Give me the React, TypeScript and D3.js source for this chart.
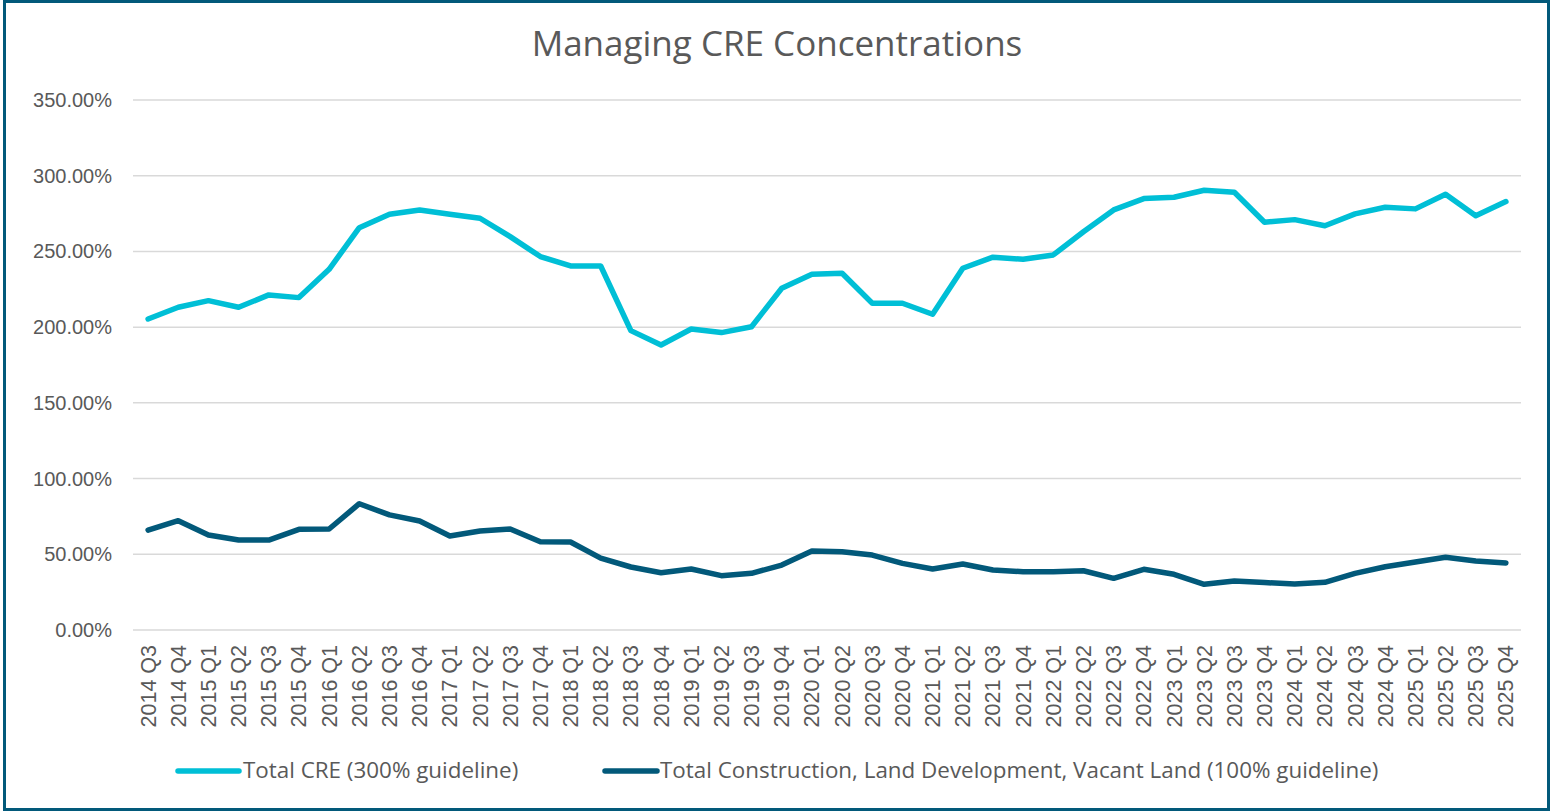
import * as d3 from 'd3';

const quarters = [
  '2014 Q3', '2014 Q4',
  '2015 Q1', '2015 Q2', '2015 Q3', '2015 Q4',
  '2016 Q1', '2016 Q2', '2016 Q3', '2016 Q4',
  '2017 Q1', '2017 Q2', '2017 Q3', '2017 Q4',
  '2018 Q1', '2018 Q2', '2018 Q3', '2018 Q4',
  '2019 Q1', '2019 Q2', '2019 Q3', '2019 Q4',
  '2020 Q1', '2020 Q2', '2020 Q3', '2020 Q4',
  '2021 Q1', '2021 Q2', '2021 Q3', '2021 Q4',
  '2022 Q1', '2022 Q2', '2022 Q3', '2022 Q4',
  '2023 Q1', '2023 Q2', '2023 Q3', '2023 Q4',
  '2024 Q1', '2024 Q2', '2024 Q3', '2024 Q4',
  '2025 Q1', '2025 Q2', '2025 Q3', '2025 Q4',
];

// percent values
const totalCre = [
  205.4, 213.1, 217.5, 213.1, 221.3, 219.5, 238.2, 265.7, 274.5, 277.4,
  274.5, 271.9, 259.8, 246.6, 240.4, 240.4, 197.7, 188.2, 198.8, 196.4,
  200.3, 225.7, 234.9, 235.6, 215.8, 215.8, 208.5, 238.9, 246.2, 244.8,
  247.7, 263.0, 277.4, 284.9, 285.8, 290.4, 289.1, 269.3, 271.0, 267.0,
  274.8, 279.2, 278.1, 287.8, 273.6, 282.9,
];

const totalConstruction = [
  66.0, 72.2, 62.7, 59.4, 59.4, 66.5, 66.7, 83.4, 76.0, 72.0,
  62.1, 65.4, 66.7, 58.3, 58.1, 47.5, 41.6, 37.8, 40.3, 35.9,
  37.4, 42.9, 52.2, 51.7, 49.5, 44.0, 40.3, 43.6, 39.6, 38.5,
  38.5, 39.1, 34.1, 40.1, 36.8, 30.2, 32.4, 31.3, 30.4, 31.5,
  37.4, 41.8, 44.9, 48.0, 45.6, 44.3,
];

const yTicks = [0, 50, 100, 150, 200, 250, 300, 350];

const seriesNames = [
  'Total CRE (300% guideline)',
  'Total Construction, Land Development, Vacant Land (100% guideline)',
];

const CYAN = '#00BFD6';
const TEAL = '#02597A';
const TEXT = '#595959';

export default function App() {
  const width = 1550;
  const height = 811;

  const x = d3.scalePoint<string>().domain(quarters).range([133, 1521]).padding(0.5);
  const y = d3.scaleLinear().domain([0, 350]).range([630, 100]);

  const line = d3.line<number>()
    .x((_, i) => x(quarters[i]) as number)
    .y(d => y(d));

  return (
    <svg
      width={width}
      height={height}
      style={{ position: 'absolute', left: 0, top: 0, background: '#fff' }}
    >
      <rect x={4.5} y={1.5} width={1544} height={808} fill="#fff" stroke={TEAL} strokeWidth={3} />

      <text
        x={777}
        y={56}
        textAnchor="middle"
        fill={TEXT}
        fontFamily="'Open Sans', sans-serif"
        fontSize={35}
      >
        Managing CRE Concentrations
      </text>

      {/* gridlines + y labels */}
      {yTicks.map(t => (
        <g key={t}>
          <line x1={133} x2={1521} y1={y(t)} y2={y(t)} stroke="#D9D9D9" strokeWidth={1.5} />
          <text
            x={112}
            y={y(t)}
            dy="0.35em"
            textAnchor="end"
            fill={TEXT}
            fontFamily="'Liberation Sans', Arial, sans-serif"
            fontSize={20}
          >
            {t.toFixed(2)}%
          </text>
        </g>
      ))}

      {/* x labels rotated */}
      {quarters.map(q => (
        <text
          key={q}
          transform={`translate(${x(q)},645) rotate(-90)`}
          dy="0.35em"
          textAnchor="end"
          fill={TEXT}
          fontFamily="'Liberation Sans', Arial, sans-serif"
          fontSize={21.5}
        >
          {q}
        </text>
      ))}

      <path
        d={line(totalConstruction) || ''}
        fill="none"
        stroke={TEAL}
        strokeWidth={5.5}
        strokeLinejoin="round"
        strokeLinecap="round"
      />
      <path
        d={line(totalCre) || ''}
        fill="none"
        stroke={CYAN}
        strokeWidth={5.5}
        strokeLinejoin="round"
        strokeLinecap="round"
      />

      {/* legend */}
      <g fontFamily="'Open Sans', sans-serif" fontSize={22.4} fill={TEXT}>
        <line x1={178} x2={239} y1={771} y2={771} stroke={CYAN} strokeWidth={5.5} strokeLinecap="round" />
        <text x={243} y={778}>{seriesNames[0]}</text>
        <line x1={605} x2={657} y1={771} y2={771} stroke={TEAL} strokeWidth={5.5} strokeLinecap="round" />
        <text x={660} y={778}>{seriesNames[1]}</text>
      </g>
    </svg>
  );
}
